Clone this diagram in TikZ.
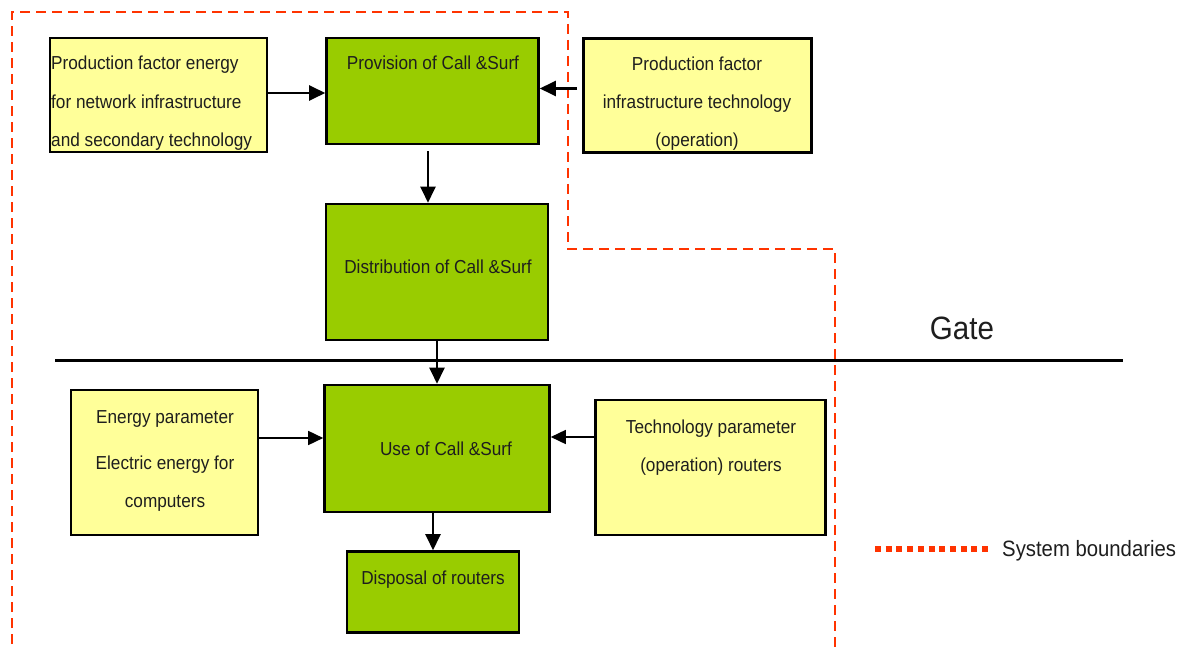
\documentclass[tikz,border=0pt]{standalone}
\usepackage{fontspec}
\setmainfont{Liberation Sans}[FakeStretch=0.915]
\usetikzlibrary{arrows.meta}
\definecolor{boxyellow}{HTML}{FFFF99}
\definecolor{boxgreen}{HTML}{99CC00}
\definecolor{bordred}{HTML}{FF3300}
\definecolor{txt}{HTML}{1E1E1E}
\tikzset{
  ybox/.style={draw=black, line width=2.6pt, fill=boxyellow, inner sep=0pt},
  gbox/.style={draw=black, line width=2.6pt, fill=boxgreen, inner sep=0pt},
  lbl/.style={inner sep=0pt, anchor=base, text=txt, font=\fontsize{18.8}{22}\selectfont},
  arr/.style={draw=black, line width=2.4pt, -{Triangle[length=16pt,width=15pt]}},
  thinarr/.style={draw=black, line width=1.6pt, -{Triangle[length=15pt,width=14pt]}},
  sysbound/.style={draw=bordred, line width=2.8pt, dash pattern=on 10pt off 6pt},
  legdots/.style={draw=bordred, line width=5.5pt, dash pattern=on 6pt off 4.7pt}
}
\begin{document}
\begin{tikzpicture}[x=1pt,y=-1pt]
\useasboundingbox (0,0) rectangle (1184,650);
\fill[white] (0,0) rectangle (1184,650);

% system boundary
\coordinate (s1) at (12,660);
\coordinate (s2) at (12,12);
\coordinate (s3) at (568,12);
\coordinate (s4) at (568,249);
\coordinate (s5) at (835,249);
\coordinate (s6) at (835,660);
\draw[sysbound] (s1) -- (s2) -- (s3) -- (s4) -- (s5) -- (s6);

% gate line
\coordinate (g1) at (55,360);
\coordinate (g2) at (1123,360);
\draw[line width=3pt] (g1) -- (g2);
\node[lbl, font=\fontsize{32.3}{36}\selectfont] (gate) at (962,339) {Gate};

% boxes
\node[ybox, minimum width=217, minimum height=114] (A) at (158.5,95) {};
\node[gbox, minimum width=212, minimum height=106] (B) at (432.5,91) {};
\node[ybox, minimum width=228, minimum height=114] (C) at (697.5,95.5) {};
\node[gbox, minimum width=222, minimum height=136] (D) at (437,272) {};
\node[ybox, minimum width=187, minimum height=145] (E) at (164.5,462.5) {};
\node[gbox, minimum width=225, minimum height=127] (F) at (437,448.5) {};
\node[ybox, minimum width=230, minimum height=135] (G) at (710.5,467.5) {};
\node[gbox, minimum width=172, minimum height=81] (H) at (433,592) {};

% texts
\node[lbl, anchor=base west] (a1) at (51,70) {Production factor energy};
\node[lbl, anchor=base west] (a2) at (51,108.3) {for network infrastructure};
\node[lbl, anchor=base west] (a3) at (51,146.5) {and secondary technology};
\node[lbl] (b1) at (433,69.3) {Provision of Call \&Surf};
\node[lbl] (c1) at (697,71) {Production factor};
\node[lbl] (c2) at (697,109) {infrastructure technology};
\node[lbl] (c3) at (697,146.5) {(operation)};
\node[lbl] (d1) at (438,273.3) {Distribution of Call \&Surf};
\node[lbl] (e1) at (165,423) {Energy parameter};
\node[lbl] (e2) at (165,469) {Electric energy for};
\node[lbl] (e3) at (165,507) {computers};
\node[lbl] (f1) at (446,455.7) {Use of Call \&Surf};
\node[lbl] (t1) at (711,433.5) {Technology parameter};
\node[lbl] (t2) at (711,471.5) {(operation) routers};
\node[lbl] (h1) at (433,584.5) {Disposal of routers};

% arrows
\draw[arr] ([yshift=2pt]A.east) -- ([yshift=2pt]A.east -| B.west);
\draw[arr] ([xshift=-5pt,yshift=2.5pt]C.west |- B.east) -- ([yshift=2.5pt]B.east);
\draw[arr] ([xshift=-4.5pt,yshift=-6pt]B.south) -- ([xshift=-4.5pt]B.south |- D.north);
\draw[arr] (D.south) -- (F.north);
\draw[thinarr] ([yshift=24.5pt]E.east) -- ([yshift=24.5pt]E.east -| F.west);
\draw[thinarr] ([yshift=30.5pt]G.west) -- ([yshift=30.5pt]G.west -| F.east);
\draw[arr] (H.north |- F.south) -- (H.north);

% legend
\coordinate (l1) at (875,549);
\coordinate (l2) at (990,549);
\draw[legdots] (l1) -- (l2);
\node[lbl, font=\fontsize{22.2}{26}\selectfont, anchor=base west] (leg) at (1002,556.5) {System boundaries};
\end{tikzpicture}
\end{document}
